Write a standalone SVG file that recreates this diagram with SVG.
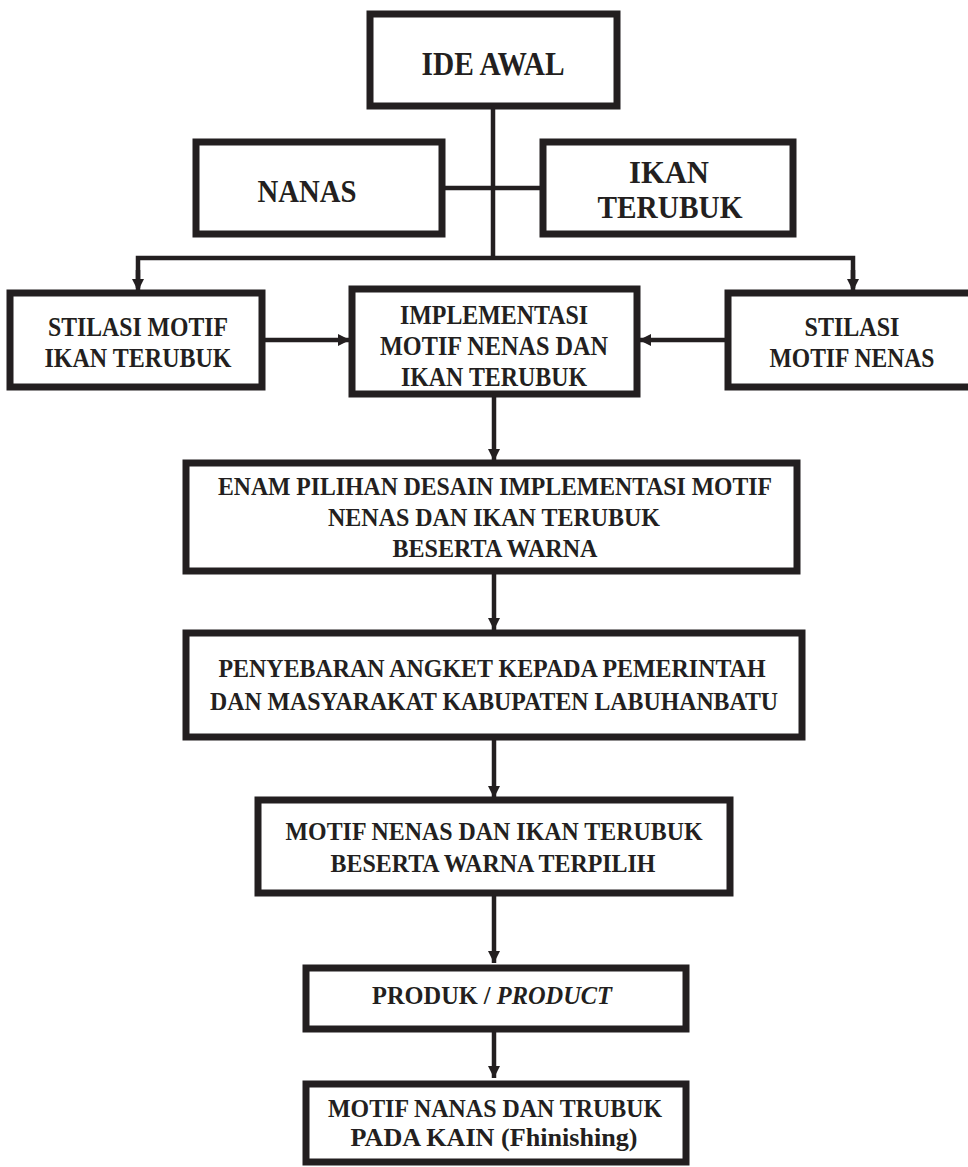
<svg xmlns="http://www.w3.org/2000/svg" width="968" height="1167" viewBox="0 0 968 1167">
<defs>
<marker id="ah" markerUnits="userSpaceOnUse" markerWidth="14" markerHeight="14" refX="12" refY="6" orient="auto">
<path d="M0,0 L12,6 L0,12 Z" fill="#231f20"/>
</marker>
<style>
.box{fill:#fff;stroke:#231f20;stroke-width:7}
.t{font-family:"Liberation Serif",serif;font-weight:bold;fill:#231f20;text-anchor:middle}
.c{stroke:#231f20;stroke-width:4.5;fill:none}
.a{stroke:#231f20;stroke-width:4.5;fill:none;marker-end:url(#ah)}
</style>
</defs>
<rect width="968" height="1167" fill="#fff"/>
<g id="connectors">
<line class="c" x1="493" y1="106" x2="493" y2="258"/>
<line class="c" x1="442" y1="188" x2="543" y2="188"/>
<polyline class="c" points="138,288 138,258 853,258 853,288"/>
<line class="a" x1="138" y1="270" x2="138" y2="291"/>
<line class="a" x1="853" y1="270" x2="853" y2="291"/>
<line class="a" x1="262" y1="340" x2="350" y2="340"/>
<line class="a" x1="728" y1="340" x2="639" y2="340"/>
<line class="a" x1="494" y1="394" x2="494" y2="461"/>
<line class="a" x1="494" y1="571" x2="494" y2="630"/>
<line class="a" x1="494" y1="737" x2="494" y2="798"/>
<line class="a" x1="494" y1="893" x2="494" y2="963"/>
<line class="a" x1="494" y1="1029" x2="494" y2="1078"/>
</g>
<g id="ide-awal">
<rect class="box" x="370" y="14" width="247" height="92"/>
<text class="t" x="493" y="75" font-size="33" textLength="143" lengthAdjust="spacingAndGlyphs">IDE AWAL</text>
</g>
<g id="nanas">
<rect class="box" x="196" y="142" width="246" height="92"/>
<text class="t" x="307" y="202" font-size="31" textLength="99" lengthAdjust="spacingAndGlyphs">NANAS</text>
</g>
<g id="ikan-terubuk">
<rect class="box" x="543" y="142" width="250" height="92"/>
<text class="t" x="669" y="183" font-size="31" textLength="80" lengthAdjust="spacingAndGlyphs">IKAN</text>
<text class="t" x="670" y="218" font-size="31" textLength="145" lengthAdjust="spacingAndGlyphs">TERUBUK</text>
</g>
<g id="stilasi-ikan">
<rect class="box" x="10" y="293" width="252" height="94"/>
<text class="t" x="138" y="336" font-size="27" textLength="180" lengthAdjust="spacingAndGlyphs">STILASI MOTIF</text>
<text class="t" x="138" y="367" font-size="27" textLength="187" lengthAdjust="spacingAndGlyphs">IKAN TERUBUK</text>
</g>
<g id="implementasi">
<rect class="box" x="352" y="289" width="285" height="105"/>
<text class="t" x="494" y="324" font-size="27" textLength="188" lengthAdjust="spacingAndGlyphs">IMPLEMENTASI</text>
<text class="t" x="494" y="355" font-size="27" textLength="228" lengthAdjust="spacingAndGlyphs">MOTIF NENAS DAN</text>
<text class="t" x="494" y="386" font-size="27" textLength="186" lengthAdjust="spacingAndGlyphs">IKAN TERUBUK</text>
</g>
<g id="stilasi-nenas">
<rect class="box" x="728" y="293" width="244" height="94"/>
<text class="t" x="852" y="336" font-size="27" textLength="95" lengthAdjust="spacingAndGlyphs">STILASI</text>
<text class="t" x="852" y="367" font-size="27" textLength="165" lengthAdjust="spacingAndGlyphs">MOTIF NENAS</text>
</g>
<g id="enam-pilihan">
<rect class="box" x="186" y="463" width="611" height="108"/>
<text class="t" x="495" y="495" font-size="26" textLength="554" lengthAdjust="spacingAndGlyphs">ENAM PILIHAN DESAIN IMPLEMENTASI MOTIF</text>
<text class="t" x="494" y="526" font-size="26" textLength="332" lengthAdjust="spacingAndGlyphs">NENAS DAN IKAN TERUBUK</text>
<text class="t" x="495" y="557" font-size="26" textLength="205" lengthAdjust="spacingAndGlyphs">BESERTA WARNA</text>
</g>
<g id="penyebaran">
<rect class="box" x="186" y="633" width="616" height="104"/>
<text class="t" x="492" y="677" font-size="26" textLength="547" lengthAdjust="spacingAndGlyphs">PENYEBARAN ANGKET KEPADA PEMERINTAH</text>
<text class="t" x="494" y="710" font-size="26" textLength="568" lengthAdjust="spacingAndGlyphs">DAN MASYARAKAT KABUPATEN LABUHANBATU</text>
</g>
<g id="motif-terpilih">
<rect class="box" x="258" y="800" width="472" height="93"/>
<text class="t" x="494" y="840" font-size="26" textLength="417" lengthAdjust="spacingAndGlyphs">MOTIF NENAS DAN IKAN TERUBUK</text>
<text class="t" x="493" y="872" font-size="26" textLength="325" lengthAdjust="spacingAndGlyphs">BESERTA WARNA TERPILIH</text>
</g>
<g id="produk">
<rect class="box" x="306" y="968" width="380" height="61"/>
<text class="t" x="492" y="1004" font-size="26" textLength="240" lengthAdjust="spacingAndGlyphs">PRODUK / <tspan font-style="italic">PRODUCT</tspan></text>
</g>
<g id="finishing">
<rect class="box" x="306" y="1084" width="380" height="78"/>
<text class="t" x="495" y="1117" font-size="26" textLength="334" lengthAdjust="spacingAndGlyphs">MOTIF NANAS DAN TRUBUK</text>
<text class="t" x="494" y="1146" font-size="26" textLength="287" lengthAdjust="spacingAndGlyphs">PADA KAIN (Fhinishing)</text>
</g>
</svg>
